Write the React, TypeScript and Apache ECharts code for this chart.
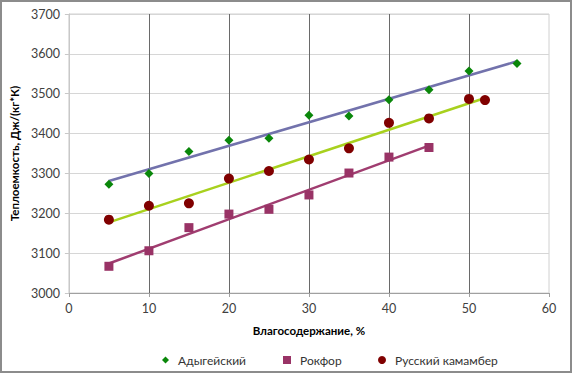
import React, { useEffect, useRef } from "react";
import * as echarts from "echarts";

const adygXs = [5, 10, 15, 20, 25, 30, 35, 40, 45, 50, 56];
const adygYs = [3273, 3300, 3355, 3383, 3388, 3446, 3444, 3485, 3510, 3557, 3576];
const roqXs = [5, 10, 15, 20, 25, 30, 35, 40, 45];
const roqYs = [3067, 3106, 3164, 3198, 3210, 3246, 3301, 3341, 3365];
const camXs = [5, 10, 15, 20, 25, 30, 35, 40, 45, 50, 52];
const camYs = [3184, 3219, 3225, 3287, 3306, 3335, 3363, 3427, 3438, 3487, 3484];

const seriesNames = ["Адыгейский", "Рокфор", "Русский камамбер"];
const xTitle = "Влагосодержание, %";
const yTitle = "Теплоемкость, Дж/(кг*К)";

function pairs(xs: number[], ys: number[]) {
  return xs.map((x, i) => [x, ys[i]]);
}

function trend(xs: number[], ys: number[]) {
  const n = xs.length;
  const mx = xs.reduce((a, b) => a + b, 0) / n;
  const my = ys.reduce((a, b) => a + b, 0) / n;
  let sxy = 0;
  let sxx = 0;
  for (let i = 0; i < n; i++) {
    sxy += (xs[i] - mx) * (ys[i] - my);
    sxx += (xs[i] - mx) * (xs[i] - mx);
  }
  const b = sxy / sxx;
  const a = my - b * mx;
  const x0 = Math.min(...xs);
  const x1 = Math.max(...xs);
  return [
    [x0, a + b * x0],
    [x1, a + b * x1],
  ];
}

export default function App() {
  const ref = useRef<HTMLDivElement>(null);
  useEffect(() => {
    document.body.style.margin = "0";
    const chart = echarts.init(ref.current!, null, { renderer: "svg" });
    const font = "Lato, 'Open Sans', 'Liberation Sans', sans-serif";
    const colors = ["#0A870A", "#993366", "#800000"];
    const icons = ["diamond", "rect", "circle"];
    const iconSizes = [7, 8, 8];
    const legendLefts = [157, 278, 373];
    const lineSeries = (data: number[][], color: string) => ({
      type: "line",
      data,
      symbol: "none",
      silent: true,
      lineStyle: { color, width: 2.5 },
      z: 1,
    });
    chart.setOption({
      animation: false,
      textStyle: { fontFamily: font },
      grid: {
        left: 67,
        right: 23,
        top: 14,
        bottom: 80,
        show: true,
        borderColor: "#D0D0D0",
        borderWidth: 1,
      },
      legend: seriesNames.map((nm, i) => ({
        top: 349,
        left: legendLefts[i],
        itemWidth: iconSizes[i],
        itemHeight: iconSizes[i],
        itemGap: 0,
        data: [{ name: nm, icon: icons[i], itemStyle: { color: colors[i], opacity: 1 } }],
        textStyle: { fontSize: 12, color: "#333", fontFamily: font, padding: [0, 0, 0, 4] },
      })),
      xAxis: {
        type: "value",
        min: 0,
        max: 60,
        interval: 10,
        name: xTitle,
        nameLocation: "middle",
        nameGap: 31,
        nameTextStyle: { fontWeight: "bold", fontSize: 11.5, color: "#000" },
        axisLine: { show: true, lineStyle: { color: "#A0A0A0" } },
        axisTick: { show: true, length: 4, lineStyle: { color: "#A0A0A0" } },
        axisLabel: { fontSize: 12.5, color: "#404040", margin: 9 },
        splitLine: {
          show: true,
          showMinLine: false,
          showMaxLine: false,
          lineStyle: { color: "#6A6A6A", width: 1 },
        },
      },
      yAxis: {
        type: "value",
        min: 3000,
        max: 3700,
        interval: 100,
        name: yTitle,
        nameLocation: "middle",
        nameGap: 44,
        nameTextStyle: { fontWeight: "bold", fontSize: 11.5, color: "#000" },
        axisLine: { show: true, lineStyle: { color: "#C8C8C8" } },
        axisTick: { show: true, length: 4, lineStyle: { color: "#C8C8C8" } },
        axisLabel: { fontSize: 12.5, color: "#404040", margin: 9, formatter: (v: number) => String(v) },
        splitLine: { show: true, lineStyle: { color: "#D6D6D6", width: 1 } },
      },
      series: [
        lineSeries(trend(adygXs, adygYs), "#7272AC"),
        lineSeries(trend(roqXs, roqYs), "#A03D70"),
        lineSeries(trend(camXs, camYs), "#A8D11E"),
        {
          name: seriesNames[0],
          type: "scatter",
          symbol: "diamond",
          symbolSize: 9,
          itemStyle: { color: colors[0], opacity: 1 },
          data: pairs(adygXs, adygYs),
          z: 3,
        },
        {
          name: seriesNames[1],
          type: "scatter",
          symbol: "rect",
          symbolSize: 9,
          itemStyle: { color: colors[1], opacity: 1 },
          data: pairs(roqXs, roqYs),
          z: 3,
        },
        {
          name: seriesNames[2],
          type: "scatter",
          symbol: "circle",
          symbolSize: 10,
          itemStyle: { color: colors[2], opacity: 1 },
          data: pairs(camXs, camYs),
          z: 3,
        },
      ],
    });
    return () => chart.dispose();
  }, []);
  return (
    <div
      style={{
        width: 572,
        height: 373,
        boxSizing: "border-box",
        border: "2px solid #8C8C8C",
        position: "relative",
      }}
    >
      <div ref={ref} style={{ position: "absolute", left: -2, top: -2, width: 572, height: 373 }} />
    </div>
  );
}
